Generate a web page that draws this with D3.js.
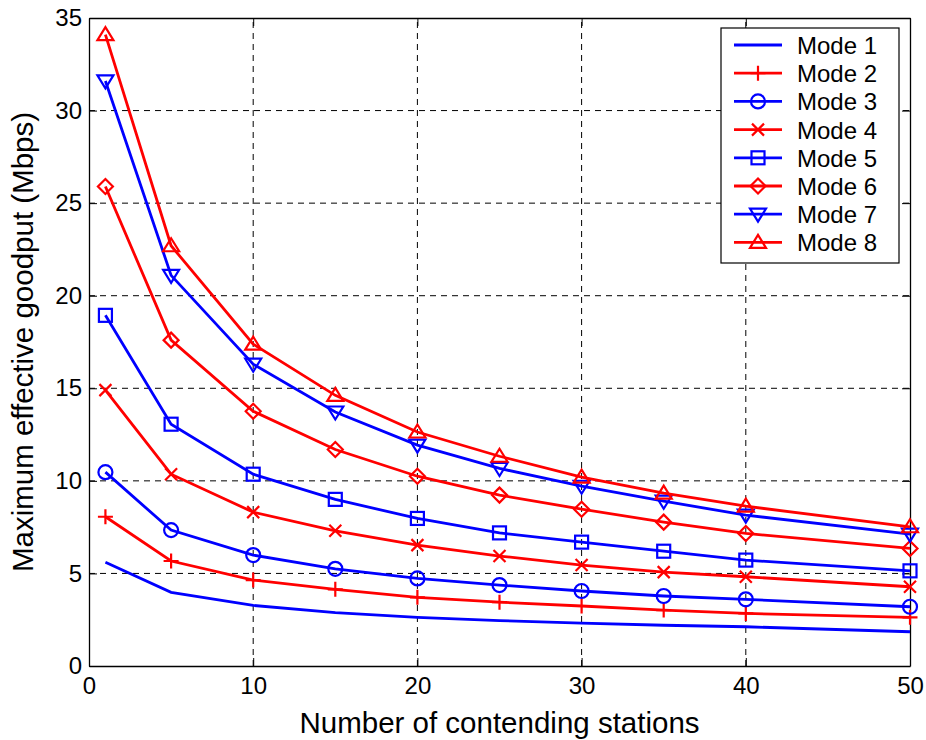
<!DOCTYPE html>
<html>
<head>
    <meta charset="utf-8">
    <script src="https://d3js.org/d3.v7.min.js"></script>
    <style>
        body { margin: 0; background: #fff; }
        text { font-family: Arial, "Liberation Sans", sans-serif; }
    </style>
</head>
<body>
    <div id="chart"></div>
    <script>
        // data
        const stations = [1, 5, 10, 15, 20, 25, 30, 35, 40, 50];
        const modeNames = ["Mode 1", "Mode 2", "Mode 3", "Mode 4", "Mode 5", "Mode 6", "Mode 7", "Mode 8"];
        const mode1 = [5.6, 3.98, 3.27, 2.88, 2.63, 2.45, 2.32, 2.2, 2.12, 1.85];
        const mode2 = [8.06, 5.67, 4.64, 4.14, 3.71, 3.45, 3.24, 3.02, 2.84, 2.63];
        const mode3 = [10.47, 7.34, 5.99, 5.25, 4.73, 4.37, 4.05, 3.78, 3.6, 3.2];
        const mode4 = [14.9, 10.36, 8.31, 7.3, 6.53, 5.94, 5.45, 5.07, 4.82, 4.28];
        const mode5 = [18.94, 13.06, 10.36, 9.0, 7.97, 7.19, 6.69, 6.2, 5.72, 5.14];
        const mode6 = [25.9, 17.6, 13.76, 11.69, 10.25, 9.23, 8.47, 7.77, 7.16, 6.35];
        const mode7 = [31.6, 21.1, 16.3, 13.72, 11.93, 10.67, 9.71, 8.9, 8.15, 7.12];
        const mode8 = [34.1, 22.7, 17.38, 14.62, 12.64, 11.33, 10.2, 9.34, 8.63, 7.52];
        const xTicks = [0, 10, 20, 30, 40, 50];
        const yTicks = [0, 5, 10, 15, 20, 25, 30, 35];

        const seriesValues = [mode1, mode2, mode3, mode4, mode5, mode6, mode7, mode8];
        const colors = ["#0000ff", "#ff0000", "#0000ff", "#ff0000", "#0000ff", "#ff0000", "#0000ff", "#ff0000"];
        const markers = ["none", "plus", "circle", "x", "square", "diamond", "tridown", "triup"];

        const width = 926, height = 740;
        const margin = { top: 18, right: 16, bottom: 74, left: 89 };

        const svg = d3.select("#chart").append("svg")
            .attr("width", width)
            .attr("height", height);

        const x = d3.scaleLinear().domain([0, 50]).range([margin.left, width - margin.right]);
        const y = d3.scaleLinear().domain([0, 35]).range([height - margin.bottom, margin.top]);

        // grid
        svg.append("g").selectAll("line")
            .data(xTicks.slice(1, -1))
            .join("line")
            .attr("x1", d => x(d)).attr("x2", d => x(d))
            .attr("y1", y(0)).attr("y2", y(35))
            .attr("stroke", "#000").attr("stroke-width", 1).attr("stroke-dasharray", "6,5");
        svg.append("g").selectAll("line")
            .data(yTicks.slice(1, -1))
            .join("line")
            .attr("x1", x(0)).attr("x2", x(50))
            .attr("y1", d => y(d)).attr("y2", d => y(d))
            .attr("stroke", "#000").attr("stroke-width", 1).attr("stroke-dasharray", "6,5");

        // axes with inward ticks
        svg.append("g").attr("transform", `translate(0,${y(0)})`)
            .call(d3.axisBottom(x).tickValues(xTicks).tickSizeInner(-8).tickSizeOuter(0).tickPadding(11));
        svg.append("g").attr("transform", `translate(${x(0)},0)`)
            .call(d3.axisLeft(y).tickValues(yTicks).tickSizeInner(-8).tickSizeOuter(0).tickPadding(7));
        svg.append("g").attr("transform", `translate(0,${y(35)})`)
            .call(d3.axisTop(x).tickValues(xTicks).tickSizeInner(-8).tickSizeOuter(0).tickFormat(""));
        svg.append("g").attr("transform", `translate(${x(50)},0)`)
            .call(d3.axisRight(y).tickValues(yTicks).tickSizeInner(-8).tickSizeOuter(0).tickFormat(""));
        svg.selectAll(".domain").attr("stroke", "#000").attr("stroke-width", 1.3);
        svg.selectAll(".tick line").attr("stroke", "#000");
        svg.selectAll(".tick text").attr("font-size", 24).attr("fill", "#000")
            .style("font-family", "Arial, 'Liberation Sans', sans-serif");

        svg.append("text")
            .attr("x", (x(0) + x(50)) / 2).attr("y", 733)
            .attr("text-anchor", "middle").attr("font-size", 29.5)
            .text("Number of contending stations");
        svg.append("text")
            .attr("transform", `translate(33,${(y(0) + y(35)) / 2}) rotate(-90)`)
            .attr("text-anchor", "middle").attr("font-size", 29.5)
            .text("Maximum effective goodput (Mbps)");

        function drawMarker(g, type, color) {
            const s = 7.5;
            const common = sel => sel.attr("fill", "none").attr("stroke", color).attr("stroke-width", 2.2);
            if (type === "plus") {
                common(g.append("path").attr("d", `M${-s},0H${s}M0,${-s}V${s}`));
            } else if (type === "x") {
                const k = 6;
                common(g.append("path").attr("d", `M${-k},${-k}L${k},${k}M${-k},${k}L${k},${-k}`));
            } else if (type === "circle") {
                common(g.append("circle").attr("r", 7));
            } else if (type === "square") {
                common(g.append("rect").attr("x", -6.5).attr("y", -6.5).attr("width", 13).attr("height", 13));
            } else if (type === "diamond") {
                common(g.append("path").attr("d", `M0,${-s}L${s},0L0,${s}L${-s},0Z`));
            } else if (type === "tridown") {
                common(g.append("path").attr("d", `M${-8},${-5.5}L${8},${-5.5}L0,${7.5}Z`));
            } else if (type === "triup") {
                common(g.append("path").attr("d", `M${-8},${5.5}L${8},${5.5}L0,${-7.5}Z`));
            }
        }

        const line = d3.line().x(d => x(d[0])).y(d => y(d[1]));

        seriesValues.forEach((vals, i) => {
            const pts = stations.map((s, j) => [s, vals[j]]);
            svg.append("path")
                .datum(pts)
                .attr("d", line)
                .attr("fill", "none")
                .attr("stroke", colors[i])
                .attr("stroke-width", 2.8);
            svg.append("g").selectAll("g")
                .data(pts)
                .join("g")
                .attr("transform", d => `translate(${x(d[0])},${y(d[1])})`)
                .each(function () { drawMarker(d3.select(this), markers[i], colors[i]); });
        });

        // legend
        const lg = svg.append("g").attr("transform", "translate(721,28)");
        lg.append("rect").attr("width", 178).attr("height", 235)
            .attr("fill", "#fff").attr("stroke", "#000").attr("stroke-width", 1.2);
        modeNames.forEach((name, i) => {
            const row = lg.append("g").attr("transform", `translate(0,${17 + i * 28.2})`);
            row.append("line").attr("x1", 13).attr("x2", 61)
                .attr("stroke", colors[i]).attr("stroke-width", 2.8);
            const mg = row.append("g").attr("transform", "translate(37,0)");
            drawMarker(mg, markers[i], colors[i]);
            row.append("text").attr("x", 76).attr("y", 9).attr("font-size", 24).text(name);
        });
    </script>
</body>
</html>
